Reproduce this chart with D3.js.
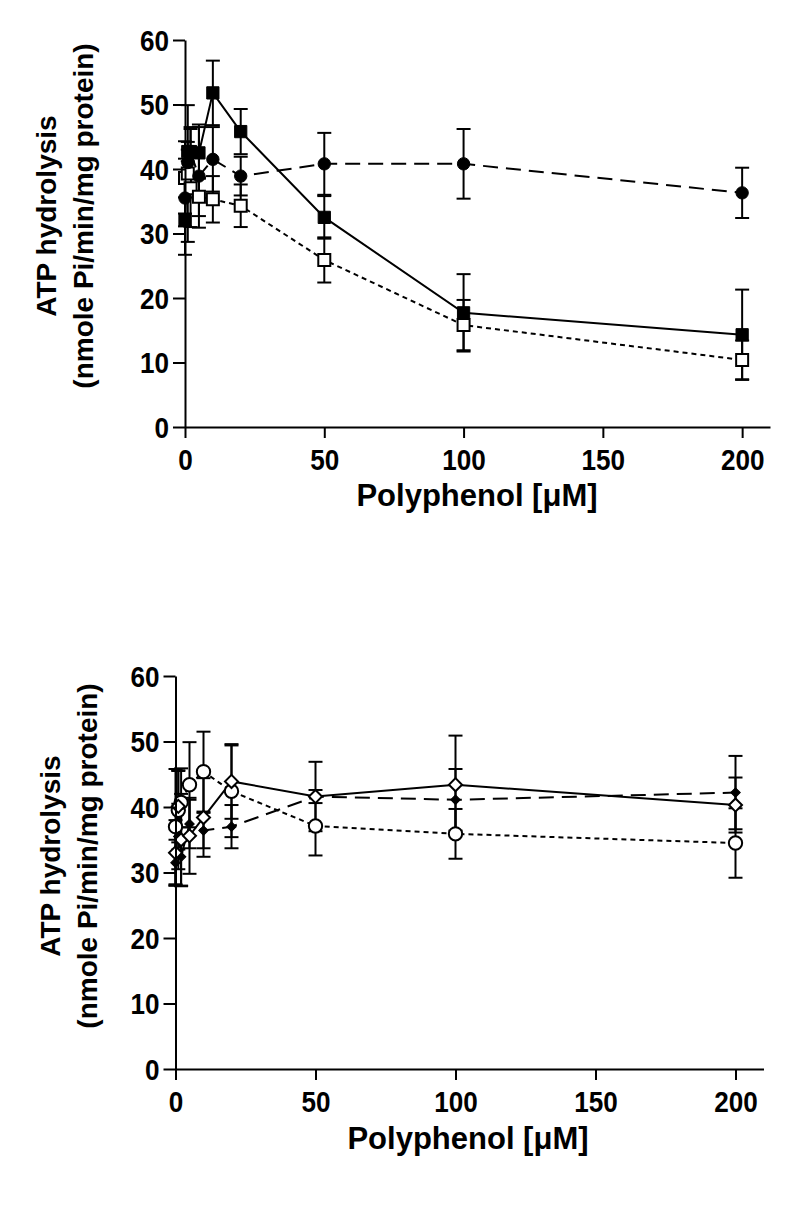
<!DOCTYPE html>
<html><head><meta charset="utf-8">
<script src="https://cdn.jsdelivr.net/npm/d3@7"></script>
<style>body{margin:0;background:#fff} svg{display:block}</style>
</head><body><svg id="c" width="800" height="1211"></svg>
<script>
// ---- data ----
const conc = [0, 1, 2, 5, 10, 20, 50, 100, 200];
const xTicks = [0, 50, 100, 150, 200];
const yTicks = [0, 10, 20, 30, 40, 50, 60];
const yTitle1 = "ATP hydrolysis";
const yTitle2 = "(nmole Pi/min/mg protein)";
const xTitle = "Polyphenol [\u03BCM]";

// top panel
const topFilledSquare    = [32.1, 42.7, 42.7, 42.5, 51.8, 45.8, 32.5, 17.7, 14.3];
const topFilledSquareErr = [1.0, 1.5, 3.5, 4.0, 5.0, 3.5, 3.3, 6.0, 7.0];
const topFilledCircle    = [35.5, 41.0, 42.5, 38.9, 41.5, 38.9, 40.8, 40.8, 36.3];
const topFilledCircleErr = [8.8, 2.0, 4.0, 8.0, 5.0, 3.0, 4.8, 5.4, 3.9];
const topOpenSquare      = [38.6, 39.3, 37.0, 35.7, 35.3, 34.3, 25.9, 15.8, 10.4];
const topOpenSquareErr   = [3.0, 10.6, 6.0, 3.0, 3.6, 3.3, 3.5, 3.9, 3.0];

// bottom panel
const botOpenDiamond      = [33.0, 40.1, 35.0, 35.6, 38.4, 43.9, 41.6, 43.4, 40.3];
const botOpenDiamondErr   = [5.0, 5.5, 7.0, 5.8, 6.0, 5.7, 5.3, 7.5, 4.2];
const botFilledDiamond    = [31.5, 35.5, 32.4, 37.4, 36.4, 37.0, 41.6, 41.1, 42.2];
const botFilledDiamondErr = [3.5, 5.0, 4.5, 3.7, 2.7, 3.3, 1.0, 4.7, 5.6];
const botOpenCircle       = [37.0, 39.5, 40.7, 43.4, 45.4, 42.4, 37.1, 35.9, 34.5];
const botOpenCircleErr    = [8.8, 6.0, 5.2, 6.5, 6.1, 7.0, 4.5, 3.8, 5.3];

// ---- drawing ----
const svg = d3.select("#c");
const FONT = "'Liberation Sans', Arial, Helvetica, sans-serif";
const SX = 0.9;

function panel(cfg) {
  const x = d3.scaleLinear().domain([0, 210]).range(cfg.xr);
  const y = d3.scaleLinear().domain([0, 60]).range(cfg.yr);
  const g = svg.append("g");

  const line = d3.line().x(d => x(d[0])).y(d => y(d[1]));

  cfg.series.forEach(s => {
    g.append("path")
      .datum(conc.map((c, i) => [c, s.v[i]]))
      .attr("d", line).attr("fill", "none")
      .attr("stroke", "#000").attr("stroke-width", 2)
      .attr("stroke-dasharray", s.dash || null);
  });

  cfg.series.forEach(s => {
    conc.forEach((c, i) => {
      const cx = x(c), lo = y(s.v[i] - s.e[i]), hi = y(s.v[i] + s.e[i]);
      g.append("line").attr("x1", cx).attr("x2", cx).attr("y1", lo).attr("y2", hi)
        .attr("stroke", "#000").attr("stroke-width", 2);
      [lo, hi].forEach(yy => g.append("line")
        .attr("x1", cx - 7).attr("x2", cx + 7).attr("y1", yy).attr("y2", yy)
        .attr("stroke", "#000").attr("stroke-width", 2));
    });
  });

  cfg.series.forEach(s => {
    conc.forEach((c, i) => {
      const sym = d3.symbol().type(s.shape === "circle" ? d3.symbolCircle : d3.symbolSquare).size(s.size);
      g.append("path").attr("d", sym())
        .attr("transform", `translate(${x(c)},${y(s.v[i])})` + (s.rot ? " rotate(45)" : ""))
        .attr("fill", s.fill ? "#000" : "#fff")
        .attr("stroke", "#000").attr("stroke-width", s.fill ? 1 : 2);
    });
  });

  const gy = g.append("g").attr("transform", `translate(${cfg.xr[0]},0)`)
    .call(d3.axisLeft(y).tickValues(yTicks).tickSize(12).tickSizeOuter(0));
  const gx = g.append("g").attr("transform", `translate(0,${cfg.yr[0]})`)
    .call(d3.axisBottom(x).tickValues(xTicks).tickSize(11).tickSizeOuter(0));
  [gx, gy].forEach(a => {
    a.select(".domain").attr("stroke", "#000").attr("stroke-width", 2);
    a.selectAll(".tick line").attr("stroke", "#000").attr("stroke-width", 2);
    a.selectAll(".tick text").attr("fill", "#000")
      .style("font-family", FONT).style("font-weight", "bold").style("font-size", "29px");
  });
  gy.selectAll(".tick text").attr("x", -16 / SX).attr("dy", "0.36em")
    .attr("transform", `scale(${SX},1)`);
  gx.selectAll(".tick text").attr("y", 43).attr("dy", 0)
    .attr("transform", `scale(${SX},1)`);

  [[yTitle1, cfg.yt[0]], [yTitle2, cfg.yt[1]]].forEach(([t, tx]) => {
    g.append("text").attr("transform", `translate(${tx},${cfg.ycy}) rotate(-90)`)
      .attr("text-anchor", "middle").style("font-family", FONT).style("font-weight", "bold")
      .style("font-size", "28px").text(t);
  });
  g.append("text").attr("x", cfg.xtc).attr("y", cfg.xty).attr("text-anchor", "middle")
    .style("font-family", FONT).style("font-weight", "bold").style("font-size", "31px").text(xTitle);
}

panel({
  xr: [185, 770], yr: [427, 40], yt: [56, 93], ycy: 216, xtc: 477, xty: 506,
  series: [
    { v: topOpenSquare, e: topOpenSquareErr, shape: "square", size: 144, fill: false, dash: "5,4" },
    { v: topFilledCircle, e: topFilledCircleErr, shape: "circle", size: 120, fill: true, dash: "15,8" },
    { v: topFilledSquare, e: topFilledSquareErr, shape: "square", size: 150, fill: true, dash: null }
  ]
});

panel({
  xr: [175.5, 763.5], yr: [1069, 676], yt: [60, 97], ycy: 856, xtc: 468, xty: 1149,
  series: [
    { v: botOpenCircle, e: botOpenCircleErr, shape: "circle", size: 140, fill: false, dash: "5,4" },
    { v: botFilledDiamond, e: botFilledDiamondErr, shape: "square", size: 45, fill: true, rot: true, dash: "15,8" },
    { v: botOpenDiamond, e: botOpenDiamondErr, shape: "square", size: 85, fill: false, rot: true, dash: null }
  ]
});
</script>
</body></html>
